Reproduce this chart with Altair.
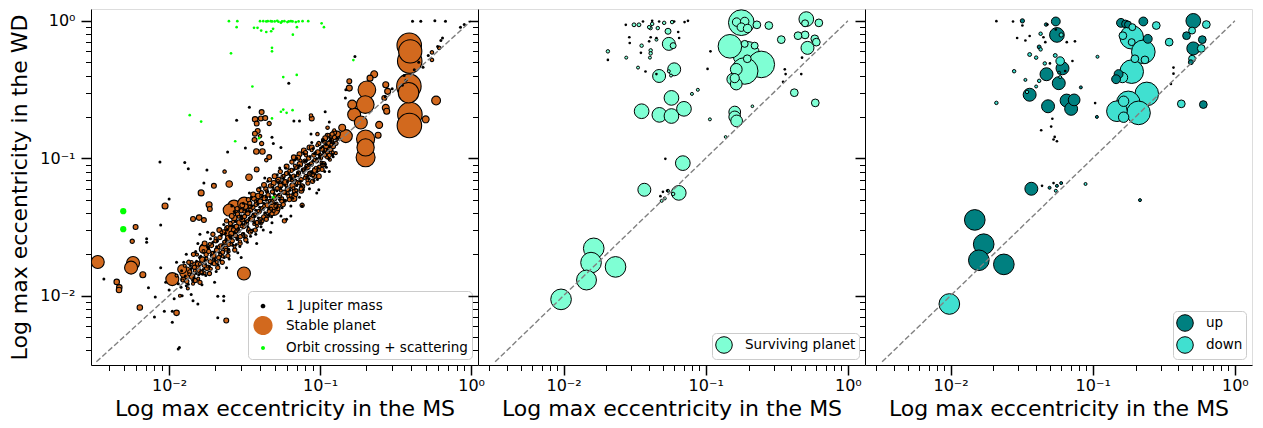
import altair as alt
import pandas as pd

# ---------------- data ----------------
# panel 1 : stable planets (x = max e in MS, y = max e in WD, mass in Jupiter-ish units)
p1_stable = [
    (0.389, 0.664, 100), (0.395, 0.60, 90), (0.392, 0.51, 100), (0.387, 0.335, 100), (0.385, 0.30, 70),
    (0.393, 0.208, 100), (0.390, 0.173, 100),
    (0.204, 0.315, 52), (0.199, 0.246, 52), (0.168, 0.208, 28), (0.163, 0.246, 13), (0.156, 0.324, 6),
    (0.156, 0.364, 4), (0.228, 0.409, 8), (0.214, 0.383, 6), (0.186, 0.182, 28), (0.148, 0.145, 28),
    (0.140, 0.167, 8), (0.130, 0.150, 6), (0.200, 0.138, 55), (0.200, 0.1016, 60), (0.200, 0.120, 50),
    (0.246, 0.175, 8), (0.242, 0.147, 6), (0.272, 0.343, 6), (0.280, 0.307, 6), (0.272, 0.233, 8),
    (0.276, 0.220, 6), (0.266, 0.275, 4), (0.586, 0.263, 13), (0.500, 0.192, 8), (0.550, 0.590, 2),
    (0.550, 0.520, 2), (0.614, 0.636, 2),
    (0.124, 0.154, 4), (0.118, 0.146, 4), (0.112, 0.146, 4), (0.106, 0.134, 4), (0.088, 0.195, 4),
    (0.087, 0.205, 2), (0.089, 0.077, 7), (0.096, 0.150, 2), (0.112, 0.167, 2), (0.078, 0.114, 4),
    (0.073, 0.107, 4), (0.067, 0.1016, 4), (0.085, 0.120, 4), (0.118, 0.132, 4), (0.110, 0.109, 4),
    (0.098, 0.074, 4), (0.075, 0.058, 4), (0.067, 0.051, 6), (0.076, 0.0455, 3), (0.058, 0.035, 3),
    (0.041, 0.217, 4), (0.0371, 0.192, 5), (0.038, 0.179, 4), (0.0405, 0.195, 4), (0.0433, 0.196, 4),
    (0.046, 0.179, 3), (0.0386, 0.158, 4), (0.037, 0.151, 4), (0.040, 0.145, 2), (0.0368, 0.136, 4),
    (0.041, 0.128, 3), (0.0378, 0.112, 5), (0.0415, 0.112, 5), (0.046, 0.102, 4), (0.044, 0.097, 2),
    (0.038, 0.083, 4), (0.0233, 0.080, 2), (0.0338, 0.0728, 7), (0.025, 0.065, 7), (0.0198, 0.063, 4),
    (0.00337, 0.0176, 28), (0.00577, 0.0173, 28), (0.0056, 0.0160, 28), (0.0067, 0.0142, 6),
    (0.0045, 0.0126, 5), (0.00468, 0.0115, 5), (0.00466, 0.0110, 5), (0.0064, 0.0082, 5),
    (0.0060, 0.0316, 4), (0.0057, 0.0249, 3), (0.0094, 0.045, 6), (0.0105, 0.0132, 28),
    (0.0112, 0.0075, 5), (0.0129, 0.0147, 24), (0.0122, 0.0156, 13), (0.0163, 0.056, 6),
    (0.0144, 0.0362, 4), (0.0158, 0.037, 5), (0.0170, 0.0355, 4), (0.0184, 0.0459, 6),
    (0.0186, 0.0428, 4), (0.0269, 0.0445, 28), (0.0314, 0.0468, 28), (0.0250, 0.0420, 24),
    (0.0254, 0.0290, 24), (0.0494, 0.0425, 24), (0.0313, 0.0145, 28), (0.0171, 0.0222, 13),
    (0.0239, 0.0066, 4), (0.0169, 0.0218, 12), (0.0150, 0.0165, 10),
    (0.0124, 0.0131, 4), (0.0131, 0.0127, 3), (0.0137, 0.0149, 3), (0.0142, 0.0138, 5), (0.0147, 0.0161, 3),
    (0.0149, 0.0129, 3), (0.0155, 0.0171, 4), (0.0158, 0.0152, 3), (0.0163, 0.0147, 3), (0.0166, 0.0183, 5),
    (0.0171, 0.0166, 3), (0.0176, 0.0199, 3), (0.0178, 0.0159, 4), (0.0183, 0.0210, 3), (0.0187, 0.0177, 3),
    (0.0191, 0.0232, 3), (0.0196, 0.0196, 5), (0.0199, 0.0171, 3), (0.0204, 0.0251, 3), (0.0207, 0.0214, 4),
    (0.0213, 0.0189, 3), (0.0217, 0.0265, 3), (0.0221, 0.0228, 5), (0.0226, 0.0207, 3), (0.0229, 0.0290, 4),
    (0.0234, 0.0244, 3), (0.0237, 0.0222, 3), (0.0241, 0.0311, 3), (0.0246, 0.0262, 5), (0.0249, 0.0236, 3),
    (0.0255, 0.0335, 3), (0.0258, 0.0283, 4), (0.0262, 0.0251, 3), (0.0267, 0.0302, 3), (0.0270, 0.0368, 5),
    (0.0275, 0.0274, 3), (0.0279, 0.0318, 4), (0.0284, 0.0392, 3), (0.0287, 0.0296, 3), (0.0292, 0.0341, 5),
    (0.0296, 0.0269, 3), (0.0301, 0.0415, 3), (0.0305, 0.0359, 4), (0.0311, 0.0318, 3), (0.0316, 0.0377, 3),
    (0.0320, 0.0445, 5), (0.0326, 0.0334, 3), (0.0331, 0.0398, 4), (0.0336, 0.0298, 3), (0.0342, 0.0471, 3),
    (0.0347, 0.0419, 3), (0.0353, 0.0362, 5), (0.0359, 0.0440, 3), (0.0364, 0.0509, 4), (0.0371, 0.0387, 3),
    (0.0377, 0.0461, 3), (0.0382, 0.0341, 3), (0.0389, 0.0532, 5), (0.0395, 0.0409, 3), (0.0401, 0.0486, 4),
    (0.0409, 0.0561, 3), (0.0416, 0.0432, 3), (0.0423, 0.0375, 3), (0.0430, 0.0514, 5), (0.0437, 0.0598, 3),
    (0.0445, 0.0455, 4), (0.0452, 0.0541, 3), (0.0460, 0.0410, 3), (0.0468, 0.0629, 3), (0.0476, 0.0482, 5),
    (0.0484, 0.0570, 3), (0.0493, 0.0661, 4), (0.0501, 0.0508, 3), (0.0510, 0.0447, 3), (0.0519, 0.0601, 3),
    (0.0529, 0.0697, 5), (0.0538, 0.0536, 3), (0.0547, 0.0633, 4), (0.0557, 0.0488, 3), (0.0568, 0.0735, 3),
    (0.0578, 0.0566, 3), (0.0588, 0.0668, 5), (0.0599, 0.0775, 3), (0.0610, 0.0597, 4), (0.0621, 0.0529, 3),
    (0.0632, 0.0704, 3), (0.0644, 0.0816, 3), (0.0656, 0.0630, 5), (0.0668, 0.0742, 3), (0.0681, 0.0576, 4),
    (0.0694, 0.0860, 3), (0.0707, 0.0664, 3), (0.0720, 0.0782, 3), (0.0734, 0.0905, 5), (0.0748, 0.0700, 3),
    (0.0762, 0.0624, 4), (0.0777, 0.0823, 3), (0.0792, 0.0953, 3), (0.0808, 0.0737, 3), (0.0824, 0.0866, 5),
    (0.0840, 0.1002, 3), (0.0857, 0.0776, 4), (0.0874, 0.0911, 3), (0.0891, 0.0680, 3), (0.0909, 0.1054, 3),
    (0.0928, 0.0817, 5), (0.0947, 0.0958, 3), (0.0966, 0.1108, 4), (0.0986, 0.0860, 3), (0.1006, 0.1006, 3),
    (0.1027, 0.1165, 3), (0.1049, 0.0904, 5), (0.1071, 0.1057, 3), (0.1094, 0.1224, 4), (0.1117, 0.1110, 3),
    (0.1141, 0.1286, 3), (0.1166, 0.1166, 5), (0.1192, 0.1350, 3), (0.1218, 0.1225, 4), (0.1245, 0.1418, 3),
    (0.1273, 0.1286, 3),
    (0.0135, 0.0175, 3), (0.0145, 0.0200, 3), (0.0160, 0.0125, 3), (0.0172, 0.0240, 4), (0.0185, 0.0145, 3),
    (0.0195, 0.0280, 3), (0.0210, 0.0160, 3), (0.0215, 0.0300, 4), (0.0225, 0.0175, 3), (0.0240, 0.0350, 3),
    (0.0245, 0.0195, 3), (0.0260, 0.0380, 4), (0.0272, 0.0215, 3), (0.0282, 0.0430, 3), (0.0295, 0.0240, 3),
    (0.0305, 0.0455, 4), (0.0322, 0.0255, 3), (0.0335, 0.0500, 3), (0.0345, 0.0290, 3), (0.0360, 0.0545, 4),
    (0.0372, 0.0300, 3), (0.0392, 0.0590, 3), (0.0405, 0.0340, 3), (0.0425, 0.0640, 4), (0.0440, 0.0360, 3),
    (0.0462, 0.0700, 3), (0.0480, 0.0395, 3), (0.0500, 0.0740, 4), (0.0525, 0.0430, 3), (0.0545, 0.0800, 3),
    (0.0570, 0.0460, 3), (0.0600, 0.0870, 4), (0.0625, 0.0500, 3), (0.0650, 0.0940, 3), (0.0690, 0.0545, 3),
    (0.0715, 0.1010, 4), (0.0750, 0.0600, 3), (0.0800, 0.1100, 3), (0.0830, 0.0660, 3), (0.0880, 0.1200, 4),
    (0.0920, 0.0740, 3), (0.0980, 0.1280, 3), (0.1030, 0.0830, 3), (0.1080, 0.1400, 4), (0.1150, 0.1050, 3),
    (0.1200, 0.1500, 3),
    (0.0112, 0.0140, 1.5), (0.0118, 0.0100, 1.5), (0.0123, 0.0129, 1.5), (0.0127, 0.0165, 1.5), (0.0133, 0.0113, 1.5),
    (0.0136, 0.0143, 1.5), (0.0141, 0.0176, 1.5), (0.0144, 0.0122, 1.5), (0.0148, 0.0152, 1.5), (0.0153, 0.0199, 1.5),
    (0.0156, 0.0133, 1.5), (0.0160, 0.0170, 1.5), (0.0164, 0.0148, 1.5), (0.0169, 0.0211, 1.5), (0.0172, 0.0146, 1.5),
    (0.0177, 0.0186, 1.5), (0.0181, 0.0163, 1.5), (0.0186, 0.0238, 1.5), (0.0189, 0.0157, 1.5), (0.0194, 0.0205, 1.5),
    (0.0198, 0.0183, 1.5), (0.0203, 0.0262, 1.5), (0.0207, 0.0176, 1.5), (0.0212, 0.0225, 1.5), (0.0218, 0.0200, 1.5),
    (0.0222, 0.0289, 1.5), (0.0227, 0.0193, 1.5), (0.0232, 0.0247, 1.5), (0.0238, 0.0216, 1.5), (0.0243, 0.0316, 1.5),
    (0.0248, 0.0210, 1.5), (0.0254, 0.0270, 1.5), (0.0259, 0.0236, 1.5), (0.0265, 0.0345, 1.5), (0.0271, 0.0228, 1.5),
    (0.0277, 0.0293, 1.5), (0.0283, 0.0258, 1.5), (0.0289, 0.0375, 1.5), (0.0295, 0.0248, 1.5), (0.0302, 0.0320, 1.5),
    (0.0308, 0.0281, 1.5), (0.0315, 0.0409, 1.5), (0.0322, 0.0271, 1.5), (0.0329, 0.0349, 1.5), (0.0336, 0.0306, 1.5),
    (0.0343, 0.0445, 1.5), (0.0351, 0.0295, 1.5), (0.0358, 0.0380, 1.5), (0.0366, 0.0333, 1.5), (0.0374, 0.0486, 1.5),
    (0.0382, 0.0321, 1.5), (0.0390, 0.0413, 1.5), (0.0399, 0.0363, 1.5), (0.0407, 0.0529, 1.5), (0.0416, 0.0349, 1.5),
    (0.0425, 0.0450, 1.5), (0.0434, 0.0395, 1.5), (0.0443, 0.0576, 1.5), (0.0453, 0.0380, 1.5), (0.0463, 0.0490, 1.5),
    (0.0473, 0.0430, 1.5), (0.0483, 0.0628, 1.5), (0.0493, 0.0414, 1.5), (0.0504, 0.0534, 1.5), (0.0515, 0.0469, 1.5),
    (0.0526, 0.0684, 1.5), (0.0537, 0.0451, 1.5), (0.0549, 0.0582, 1.5), (0.0561, 0.0511, 1.5), (0.0573, 0.0745, 1.5),
    (0.0585, 0.0491, 1.5), (0.0598, 0.0634, 1.5), (0.0611, 0.0556, 1.5), (0.0624, 0.0811, 1.5), (0.0638, 0.0536, 1.5),
    (0.0651, 0.0690, 1.5), (0.0665, 0.0605, 1.5), (0.0680, 0.0884, 1.5), (0.0695, 0.0584, 1.5), (0.0710, 0.0753, 1.5),
    (0.0725, 0.0660, 1.5), (0.0741, 0.0963, 1.5), (0.0757, 0.0636, 1.5), (0.0773, 0.0819, 1.5), (0.0790, 0.0719, 1.5),
    (0.0807, 0.1049, 1.5), (0.0824, 0.0692, 1.5), (0.0842, 0.0893, 1.5), (0.0860, 0.0783, 1.5), (0.0879, 0.1143, 1.5),
    (0.0898, 0.0754, 1.5), (0.0917, 0.0972, 1.5), (0.0937, 0.0853, 1.5), (0.0957, 0.1244, 1.5), (0.0978, 0.0822, 1.5),
    (0.0999, 0.1059, 1.5), (0.1021, 0.0929, 1.5), (0.1043, 0.1356, 1.5), (0.1066, 0.0895, 1.5), (0.1089, 0.1154, 1.5),
    (0.1112, 0.1012, 1.5), (0.1136, 0.1477, 1.5), (0.1161, 0.0975, 1.5), (0.1186, 0.1257, 1.5), (0.1212, 0.1103, 1.5),
    (0.1240, 0.1600, 1.5), (0.1270, 0.1090, 1.5), (0.1300, 0.1380, 1.5),
]

# panel 1 : 1 Jupiter-mass planets (black dots)
p1_jupiter = [
    (0.409, 0.995), (0.464, 0.995), (0.575, 1.0), (0.676, 0.995), (0.90, 0.94), (0.85, 0.90), (0.63, 0.72),
    (0.60, 0.65), (0.646, 0.75), (0.17, 0.55), (0.062, 0.352), (0.148, 0.315), (0.147, 0.275), (0.108, 0.218),
    (0.087, 0.15), (0.067, 0.187), (0.073, 0.187), (0.034, 0.235), (0.028, 0.189), (0.0244, 0.111),
    (0.032, 0.119), (0.0087, 0.094), (0.0127, 0.093), (0.0134, 0.084), (0.0178, 0.082), (0.017, 0.066),
    (0.048, 0.142), (0.049, 0.128), (0.055, 0.12), (0.010, 0.0505), (0.0088, 0.0327), (0.0071, 0.026),
    (0.0071, 0.0245), (0.0037, 0.0132), (0.0073, 0.0114), (0.0081, 0.0098), (0.0080, 0.0070),
    (0.0093, 0.0077), (0.0105, 0.0077), (0.0105, 0.0064), (0.0115, 0.0041), (0.021, 0.0099), (0.023, 0.0099),
    (0.023, 0.0092), (0.021, 0.0069), (0.0155, 0.0087), (0.0144, 0.0092), (0.0122, 0.0100), (0.0117, 0.0042),
    (0.115, 0.184), (0.098, 0.059), (0.52, 0.56), (0.48, 0.46), (0.36, 0.40), (0.37, 0.37), (0.35, 0.34),
    (0.42, 0.44), (0.45, 0.50), (0.30, 0.32), (0.27, 0.28),
    (0.0120, 0.0115), (0.0128, 0.0139), (0.0134, 0.0121), (0.0140, 0.0158), (0.0146, 0.0135), (0.0152, 0.0178),
    (0.0157, 0.0142), (0.0162, 0.0194), (0.0168, 0.0155), (0.0173, 0.0181), (0.0180, 0.0225), (0.0185, 0.0164),
    (0.0190, 0.0196), (0.0195, 0.0245), (0.0201, 0.0183), (0.0206, 0.0227), (0.0211, 0.0168), (0.0216, 0.0205),
    (0.0222, 0.0275), (0.0227, 0.0232), (0.0232, 0.0190), (0.0238, 0.0257), (0.0243, 0.0300), (0.0248, 0.0218),
    (0.0253, 0.0268), (0.0259, 0.0321), (0.0265, 0.0233), (0.0271, 0.0290), (0.0276, 0.0347), (0.0282, 0.0260),
    (0.0288, 0.0310), (0.0294, 0.0228), (0.0300, 0.0381), (0.0306, 0.0333), (0.0312, 0.0284), (0.0318, 0.0350),
    (0.0325, 0.0412), (0.0332, 0.0318), (0.0339, 0.0366), (0.0346, 0.0271), (0.0353, 0.0450), (0.0360, 0.0393),
    (0.0367, 0.0341), (0.0375, 0.0418), (0.0382, 0.0490), (0.0390, 0.0368), (0.0398, 0.0440), (0.0406, 0.0318),
    (0.0414, 0.0528), (0.0423, 0.0470), (0.0431, 0.0402), (0.0440, 0.0495), (0.0449, 0.0573), (0.0458, 0.0435),
    (0.0467, 0.0522), (0.0477, 0.0376), (0.0486, 0.0612), (0.0496, 0.0552), (0.0506, 0.0470), (0.0517, 0.0580),
    (0.0527, 0.0665), (0.0538, 0.0502), (0.0549, 0.0611), (0.0560, 0.0436), (0.0572, 0.0712), (0.0583, 0.0640),
    (0.0595, 0.0550), (0.0608, 0.0675), (0.0620, 0.0770), (0.0633, 0.0585), (0.0646, 0.0708), (0.0659, 0.0511),
    (0.0672, 0.0828), (0.0686, 0.0740), (0.0700, 0.0635), (0.0714, 0.0782), (0.0729, 0.0885), (0.0744, 0.0680),
    (0.0759, 0.0820), (0.0775, 0.0590), (0.0791, 0.0950), (0.0807, 0.0860), (0.0823, 0.0736), (0.0840, 0.0905),
    (0.0857, 0.1030), (0.0875, 0.0790), (0.0893, 0.0955), (0.0911, 0.0690), (0.0930, 0.1100), (0.0949, 0.0995),
    (0.0968, 0.0850), (0.0988, 0.1050), (0.1008, 0.1190), (0.1029, 0.0915), (0.1050, 0.1110), (0.1072, 0.0800),
    (0.1094, 0.1260), (0.1116, 0.1150), (0.1139, 0.0990), (0.1162, 0.1210), (0.1186, 0.1340), (0.1210, 0.1060),
    (0.1240, 0.1280), (0.1300, 0.1400),
    (0.0150, 0.0210), (0.0165, 0.0120), (0.0188, 0.0260), (0.0205, 0.0150), (0.0230, 0.0330), (0.0250, 0.0185),
    (0.0270, 0.0410), (0.0285, 0.0205), (0.0310, 0.0470), (0.0330, 0.0245), (0.0350, 0.0520), (0.0375, 0.0280),
    (0.0400, 0.0610), (0.0420, 0.0300), (0.0450, 0.0680), (0.0480, 0.0340), (0.0520, 0.0760), (0.0550, 0.0380),
    (0.0590, 0.0850), (0.0640, 0.0450), (0.0680, 0.0970), (0.0730, 0.0520), (0.0780, 0.1080), (0.0850, 0.0600),
    (0.0900, 0.1180), (0.0960, 0.0700), (0.1050, 0.1350), (0.1100, 0.0860), (0.0125, 0.0175), (0.0140, 0.0102),
    (0.0175, 0.0140), (0.0100, 0.0110), (0.0108, 0.0095), (0.0095, 0.0125), (0.0088, 0.0160), (0.0112, 0.0175),
    (0.0115, 0.0122), (0.0121, 0.0152), (0.0130, 0.0118), (0.0138, 0.0166), (0.0143, 0.0129), (0.0151, 0.0145),
    (0.0159, 0.0190), (0.0167, 0.0143), (0.0174, 0.0170), (0.0183, 0.0222), (0.0191, 0.0170), (0.0199, 0.0208),
    (0.0209, 0.0250), (0.0217, 0.0182), (0.0226, 0.0230), (0.0236, 0.0285), (0.0245, 0.0206), (0.0256, 0.0262),
    (0.0267, 0.0322), (0.0278, 0.0236), (0.0290, 0.0296), (0.0302, 0.0362), (0.0315, 0.0266), (0.0328, 0.0335),
    (0.0342, 0.0410), (0.0356, 0.0300), (0.0371, 0.0378), (0.0387, 0.0462), (0.0403, 0.0340), (0.0420, 0.0426),
    (0.0438, 0.0522), (0.0456, 0.0385), (0.0475, 0.0482), (0.0495, 0.0590), (0.0516, 0.0435), (0.0538, 0.0545),
    (0.0560, 0.0665), (0.0584, 0.0490), (0.0608, 0.0615), (0.0634, 0.0750), (0.0660, 0.0555), (0.0688, 0.0695),
    (0.0717, 0.0848), (0.0747, 0.0628), (0.0778, 0.0786), (0.0811, 0.0958), (0.0845, 0.0710), (0.0880, 0.0888),
    (0.0917, 0.1080), (0.0955, 0.0802), (0.0995, 0.1003), (0.1037, 0.1220), (0.1080, 0.0905), (0.1125, 0.1135),
    (0.1172, 0.1380), (0.1220, 0.1025),
    (0.0130, 0.0200), (0.0155, 0.0240), (0.0180, 0.0290), (0.0200, 0.0125), (0.0240, 0.0160), (0.0260, 0.0450),
    (0.0300, 0.0190), (0.0340, 0.0560), (0.0380, 0.0240), (0.0430, 0.0720), (0.0470, 0.0290), (0.0540, 0.0850),
    (0.0600, 0.0360), (0.0700, 0.1000), (0.0760, 0.0450), (0.0880, 0.1300), (0.0950, 0.0560), (0.1150, 0.0800),
    (0.0640, 0.0380), (0.0160, 0.0280),
]

# panel 1 : orbit crossing + scattering (green)
p1_crossing = [
    (0.0249, 0.995, 1.2), (0.0283, 0.995, 1.2), (0.028, 0.90, 1.2), (0.0257, 0.58, 1.2), (0.0356, 0.333, 1.2),
    (0.0137, 0.206, 1.2), (0.0163, 0.185, 1.2), (0.0274, 0.133, 1.2), (0.040, 0.995, 1.2), (0.042, 0.995, 1.2),
    (0.044, 0.99, 1.2), (0.045, 0.995, 1.2), (0.047, 0.995, 1.2), (0.048, 0.99, 1.2), (0.050, 0.99, 1.2),
    (0.052, 1.0, 1.2), (0.053, 0.985, 1.2), (0.055, 0.97, 1.2), (0.056, 0.99, 1.2), (0.058, 0.995, 1.2),
    (0.0365, 0.89, 1.2), (0.0385, 0.89, 1.2), (0.0407, 0.85, 1.2), (0.044, 0.83, 1.2), (0.0474, 0.84, 1.2),
    (0.0488, 0.875, 1.2), (0.048, 0.636, 1.2), (0.048, 0.60, 1.2), (0.057, 0.39, 1.2), (0.057, 0.226, 1.2),
    (0.055, 0.218, 1.2), (0.048, 0.195, 1.2), (0.0607, 0.98, 1.2), (0.062, 0.99, 1.2), (0.064, 0.995, 1.2),
    (0.0657, 0.99, 1.2), (0.069, 0.98, 1.2), (0.072, 0.99, 1.2), (0.0765, 0.995, 1.2), (0.0834, 0.995, 1.2),
    (0.1023, 0.96, 1.2), (0.106, 0.90, 1.2), (0.0702, 0.90, 1.2), (0.066, 0.793, 1.2), (0.070, 0.404, 1.2),
    (0.166, 0.518, 1.2), (0.0657, 0.224, 1.2), (0.060, 0.214, 1.2), (0.049, 0.052, 1.2), (0.0394, 0.14, 1.2),
    (0.00497, 0.0412, 6.5), (0.00497, 0.0305, 6.5),
]

# panel 2 : surviving planets
p2_surviving = [
    (0.0163, 0.0221, 71), (0.0156, 0.0174, 71), (0.0232, 0.0162, 71), (0.0145, 0.0130, 66), (0.0096, 0.0094, 71),
    (0.037, 0.059, 28), (0.069, 0.0922, 36), (0.0646, 0.056, 36),
    (0.0543, 0.058, 1.5), (0.059, 0.055, 2), (0.049, 0.049, 1.5), (0.0515, 0.051, 1.5),
    (0.0354, 0.220, 36), (0.0472, 0.207, 36), (0.0574, 0.203, 36), (0.0703, 0.229, 36), (0.0574, 0.275, 36),
    (0.0470, 0.397, 28), (0.060, 0.444, 28), (0.055, 0.68, 28), (0.059, 0.66, 6), (0.0543, 0.84, 6),
    (0.046, 0.886, 2), (0.0409, 0.886, 2), (0.0339, 0.936, 2.5), (0.0313, 0.936, 2.5), (0.051, 0.967, 2),
    (0.058, 0.98, 2), (0.040, 0.90, 2), (0.042, 0.95, 2), (0.0354, 0.66, 2), (0.041, 0.61, 2), (0.041, 0.58, 2),
    (0.0405, 0.54, 1.5), (0.0334, 0.457, 1.5), (0.0276, 0.54, 1.5), (0.0205, 0.60, 2), (0.045, 0.73, 1.5),
    (0.055, 0.43, 1.5), (0.057, 0.40, 1.5), (0.088, 0.315, 1.5), (0.080, 0.294, 1.5), (0.107, 0.192, 1.5),
    (0.138, 0.143, 1.2), (0.213, 0.239, 1.2),
    (0.178, 0.97, 110), (0.165, 0.98, 12), (0.188, 0.99, 12), (0.178, 0.90, 12), (0.197, 0.88, 12),
    (0.229, 0.936, 10), (0.278, 0.925, 10),
    (0.148, 0.653, 93), (0.193, 0.569, 118), (0.246, 0.482, 118), (0.188, 0.432, 118), (0.164, 0.444, 23),
    (0.155, 0.376, 23), (0.164, 0.347, 23),
    (0.188, 0.68, 8), (0.221, 0.66, 8), (0.196, 0.53, 10), (0.16, 0.383, 14),
    (0.34, 0.73, 10), (0.42, 0.30, 10), (0.59, 0.253, 10), (0.51, 1.03, 36), (0.50, 0.96, 8), (0.625, 0.967, 10),
    (0.50, 0.79, 10), (0.446, 0.78, 10), (0.585, 0.74, 10), (0.60, 0.70, 10), (0.52, 0.636, 28),
    (0.16, 0.217, 23), (0.16, 0.20, 23), (0.165, 0.187, 23),
]
p2_jupiter = [
    (0.0274, 0.936), (0.029, 0.76), (0.0292, 0.69), (0.035, 0.585), (0.0205, 0.52), (0.0377, 0.428),
    (0.045, 0.41), (0.041, 0.76), (0.045, 0.75), (0.040, 0.71), (0.065, 0.75), (0.064, 0.83), (0.071, 0.98),
    (0.075, 1.0), (0.0362, 0.99), (0.042, 1.0), (0.047, 0.99), (0.060, 0.99), (0.103, 0.447), (0.36, 0.444),
    (0.365, 0.41), (0.47, 0.41), (0.35, 0.36), (0.476, 0.54), (0.108, 0.60), (0.052, 0.099), (0.0535, 0.058),
    (0.050, 0.057), (0.048, 0.053),
]

# panel 3 : direction of the eccentricity change
p3_up = [
    (0.0148, 0.0356, 71), (0.0171, 0.0237, 71), (0.0158, 0.0181, 71), (0.0237, 0.0169, 71), (0.037, 0.060, 28),
    (0.0497, 0.061, 1.5), (0.056, 0.063, 1.5), (0.060, 0.066, 1.5), (0.215, 0.0496, 1.5),
    (0.055, 0.99, 13), (0.032, 1.0, 3), (0.047, 0.94, 2), (0.056, 0.79, 36), (0.042, 0.646, 2.5),
    (0.0613, 0.452, 28), (0.0473, 0.409, 28), (0.0577, 0.352, 28), (0.036, 0.29, 28), (0.0485, 0.239, 28),
    (0.0655, 0.263, 28), (0.0705, 0.229, 28), (0.074, 0.266, 23), (0.058, 0.42, 1.5), (0.0825, 0.328, 1.5),
    (0.107, 0.2, 1.5),
    (0.158, 0.967, 13), (0.170, 0.95, 10), (0.177, 0.94, 8), (0.227, 0.99, 13), (0.244, 0.74, 13),
    (0.152, 0.41, 13), (0.146, 0.376, 13),
    (0.60, 0.246, 10), (0.51, 1.0, 36), (0.457, 0.78, 10), (0.59, 0.73, 10), (0.51, 0.63, 28), (0.49, 0.50, 4),
]
p3_down = [
    (0.0098, 0.0087, 71), (0.055, 0.058, 1.5), (0.089, 0.065, 1.5),
    (0.043, 0.806, 2), (0.060, 0.79, 3), (0.043, 0.62, 2), (0.036, 0.569, 2.5), (0.040, 0.54, 2),
    (0.0545, 0.56, 2.5), (0.059, 0.51, 12), (0.046, 0.49, 2), (0.0345, 0.304, 2), (0.028, 0.43, 2),
    (0.0336, 0.372, 1.5), (0.042, 0.366, 2), (0.040, 0.333, 1.5), (0.021, 0.253, 2), (0.059, 0.39, 1.5),
    (0.108, 0.548, 1.5),
    (0.28, 0.925, 10), (0.345, 0.70, 10), (0.188, 0.76, 93), (0.163, 0.78, 10), (0.19, 0.90, 8),
    (0.188, 0.70, 8), (0.227, 0.595, 93), (0.198, 0.53, 10), (0.233, 0.52, 10), (0.188, 0.427, 93),
    (0.162, 0.387, 18), (0.24, 0.294, 93), (0.178, 0.253, 93), (0.148, 0.22, 71), (0.21, 0.214, 93),
    (0.165, 0.26, 18), (0.165, 0.199, 18), (0.42, 0.249, 10),
    (0.63, 0.94, 10), (0.50, 0.85, 8), (0.58, 0.63, 10), (0.50, 0.53, 8),
]
p3_jupiter = [
    (0.021, 0.995), (0.0275, 0.99), (0.032, 0.925), (0.0336, 0.72), (0.036, 0.776), (0.0294, 0.75),
    (0.045, 0.76), (0.0464, 0.70), (0.0657, 0.70), (0.075, 0.71), (0.055, 0.866), (0.064, 0.432), (0.050, 0.49),
    (0.0434, 0.16), (0.054, 0.143), (0.051, 0.17), (0.052, 0.194), (0.053, 0.137), (0.056, 0.133),
    (0.104, 0.252), (0.37, 0.457), (0.37, 0.413), (0.355, 0.347), (0.072, 0.51), (0.048, 0.94), (0.044, 0.063),
    (0.053, 0.066),
]

diag_e = [0.0033, 1.0]

kinds_p1 = ["1 Jupiter mass", "Stable planet", "Orbit crossing + scattering"]
colors_p1 = ["black", "#D2691E", "#00FF00"]
kinds_p2 = ["Surviving planet"]
colors_p2 = ["#7FFFD4"]
dirs_p3 = ["up", "down"]
colors_p3 = ["#008080", "#40E0D0"]

ticks_p1_x = [0.004, 0.005, 0.006, 0.007, 0.008, 0.009, 0.01, 0.02, 0.03, 0.04, 0.05, 0.06, 0.07, 0.08,
              0.09, 0.1, 0.2, 0.3, 0.4, 0.5, 0.6, 0.7, 0.8, 0.9, 1.0]
ticks_p23_x = [0.003] + ticks_p1_x
ticks_y = ticks_p1_x

x_title = "Log max eccentricity in the MS"
y_title = "Log max eccentricity in the WD"

# ---------------- chart ----------------
FONT = "DejaVu Sans"
W, H = 387, 356
MAJ = "abs(log(datum.value)/LN10 - round(log(datum.value)/LN10)) < 0.01"
LBL = ("(" + MAJ + ") ? (round(log(datum.value)/LN10) == 0 ? '10\u2070' : "
       "(round(log(datum.value)/LN10) == -1 ? '10\u207b\u00b9' : '10\u207b\u00b2')) : ''")
TICK_SIZE = {"condition": {"test": MAJ, "value": 10}, "value": 5.5}
TICK_WIDTH = {"condition": {"test": MAJ, "value": 1.5}, "value": 1}


def circle_path(r):
    return f"M{-r},0A{r},{r} 0 1,0 {r},0A{r},{r} 0 1,0 {-r},0Z"


def axis(values, title, labels, orient):
    kw = dict(values=values, labels=labels, labelExpr=LBL, grid=False, tickColor="black",
              tickSize=TICK_SIZE, tickWidth=TICK_WIDTH, domainColor="black", domainWidth=1,
              labelFont=FONT, labelFontSize=16, labelColor="black", labelOverlap=False,
              labelFlush=False, titleFont=FONT, titleFontSize=22, titleFontWeight="normal",
              titleColor="black")
    if orient == "x":
        kw.update(labelPadding=2, titlePadding=5)
    else:
        kw.update(labelPadding=6, titlePadding=8)
    if title is not None:
        kw["title"] = title
        return alt.Axis(**kw)
    return alt.Axis(title=None, **kw)


def legend(size, pad=5):
    return alt.Legend(title=None, orient="bottom-right", offset=6, symbolType="circle", symbolSize=size,
                      symbolStrokeColor="black", symbolStrokeWidth=1, symbolOpacity=1, labelFont=FONT,
                      labelFontSize=13.5, labelColor="black", labelLimit=400, fillColor="white",
                      strokeColor="#cccccc", cornerRadius=4, padding=pad, labelOffset=12, rowPadding=0)


Y = alt.Y("y:Q", scale=alt.Scale(type="log", domain=[0.00313, 1.22], nice=False),
          axis=axis(ticks_y, y_title, True, "y"))
Y_nolab = alt.Y("y:Q", scale=alt.Scale(type="log", domain=[0.00313, 1.22], nice=False),
                axis=axis(ticks_y, None, False, "y"))
X1 = alt.X("x:Q", scale=alt.Scale(type="log", domain=[0.00304, 1.11], nice=False),
           axis=axis(ticks_p1_x, x_title, True, "x"))
X23 = alt.X("x:Q", scale=alt.Scale(type="log", domain=[0.0025, 1.32], nice=False),
            axis=axis(ticks_p23_x, x_title, True, "x"))
SIZE = alt.Size("mass:Q", scale=alt.Scale(domain=[0, 120], range=[0, 720], zero=True), legend=None)
ORDER = alt.Order("mass:Q", sort="descending")

diag_df = pd.DataFrame({"x": diag_e, "y": diag_e})


def diag(X, Yenc):
    return alt.Chart(diag_df).mark_line(color="#808080", strokeDash=[5.5, 2.5], strokeWidth=1.4,
                                        clip=True).encode(x=X, y=Yenc)


# panel 1
df1s = pd.DataFrame(p1_stable, columns=["x", "y", "mass"])
df1j = pd.DataFrame(p1_jupiter, columns=["x", "y"])
df1c = pd.DataFrame(p1_crossing, columns=["x", "y", "mass"])
# one representative of each kind, used only to build the legend (drawn fully transparent)
df1k = pd.DataFrame({"x": [p1_jupiter[0][0], p1_stable[0][0], p1_crossing[0][0]],
                     "y": [p1_jupiter[0][1], p1_stable[0][1], p1_crossing[0][1]],
                     "kind": kinds_p1})
leg1 = legend(390, pad=4)
p1 = alt.layer(
    alt.Chart(df1s).mark_circle(color="#D2691E", stroke="black", strokeWidth=1.1, opacity=1,
                                clip=True).encode(x=X1, y=Y, size=SIZE, order=ORDER),
    alt.Chart(df1j).mark_circle(size=9, color="black", opacity=1, clip=True).encode(x=X1, y=Y),
    alt.Chart(df1c).mark_circle(color="#00FF00", opacity=1, clip=True).encode(x=X1, y=Y, size=SIZE),
    alt.Chart(df1k).mark_point(filled=True, opacity=0, stroke="black", clip=True).encode(
        x=X1, y=Y,
        color=alt.Color("kind:N", scale=alt.Scale(domain=kinds_p1, range=colors_p1), legend=leg1),
        shape=alt.Shape("kind:N", scale=alt.Scale(
            domain=kinds_p1, range=[circle_path(0.24), circle_path(0.97), circle_path(0.2)]), legend=leg1),
        strokeWidth=alt.StrokeWidth("kind:N", scale=alt.Scale(domain=kinds_p1, range=[2, 0]),
                                    legend=leg1),
    ),
    diag(X1, Y),
).resolve_scale(color="independent", shape="independent", strokeWidth="independent").properties(
    width=W, height=H)

# panel 2
df2 = pd.DataFrame(p2_surviving, columns=["x", "y", "mass"]).assign(kind="Surviving planet")
df2j = pd.DataFrame(p2_jupiter, columns=["x", "y"])
C2 = alt.Color("kind:N", scale=alt.Scale(domain=kinds_p2, range=colors_p2), legend=legend(275, pad=3))
p2 = alt.layer(
    alt.Chart(df2).mark_circle(stroke="black", strokeWidth=1, opacity=1, clip=True).encode(
        x=X23, y=Y_nolab, size=SIZE, color=C2, order=ORDER),
    alt.Chart(df2j).mark_circle(size=7, opacity=1, color="black", clip=True).encode(x=X23, y=Y_nolab),
    diag(X23, Y_nolab),
).properties(width=W, height=H)

# panel 3
df3 = pd.concat([
    pd.DataFrame(p3_up, columns=["x", "y", "mass"]).assign(dir="up"),
    pd.DataFrame(p3_down, columns=["x", "y", "mass"]).assign(dir="down"),
], ignore_index=True)
df3j = pd.DataFrame(p3_jupiter, columns=["x", "y"])
C3 = alt.Color("dir:N", scale=alt.Scale(domain=dirs_p3, range=colors_p3), legend=legend(275, pad=3))
p3 = alt.layer(
    alt.Chart(df3).mark_circle(stroke="black", strokeWidth=1, opacity=1, clip=True).encode(
        x=X23, y=Y_nolab, size=SIZE, color=C3, order=ORDER),
    alt.Chart(df3j).mark_circle(size=7, opacity=1, color="black", clip=True).encode(x=X23, y=Y_nolab),
    diag(X23, Y_nolab),
).properties(width=W, height=H)

chart = alt.hconcat(p1, p2, p3, spacing=0, bounds="flush").resolve_scale(
    x="independent", y="independent", color="independent", size="independent"
).properties(
    padding={"left": 0, "top": 0, "right": 0, "bottom": 0}
).configure_view(stroke="#444444", strokeWidth=1).configure(font=FONT, background="white")

chart.save("out.html", embed_options={"renderer": "svg", "actions": False})
